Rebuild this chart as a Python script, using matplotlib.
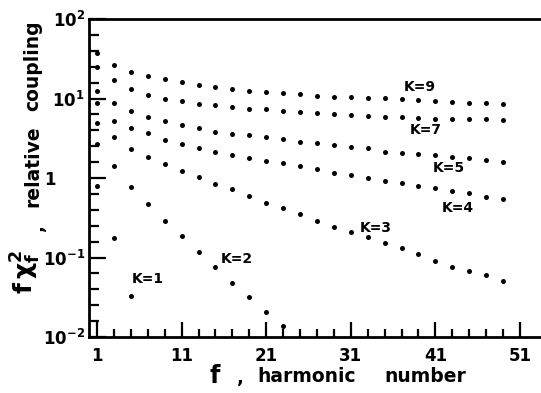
import matplotlib
matplotlib.use('Agg')
import matplotlib.pyplot as plt
import numpy as np
from matplotlib.ticker import FixedLocator, FixedFormatter, NullFormatter

plt.rcParams['font.family'] = ['DejaVu Sans']
plt.rcParams['font.weight'] = 'bold'
plt.rcParams['mathtext.fontset'] = 'dejavusans'
plt.rcParams['mathtext.default'] = 'bf'

# harmonic numbers (odd)
harmonics = list(range(1, 50, 2))

k9 = [37.4, 26.4, 21.5, 19.2, 17.6, 16.1, 14.8, 14.0, 13.2, 12.5, 12.1, 11.8, 11.4,
      10.9, 10.5, 10.4, 10.2, 10.1, 9.9, 9.6, 9.3, 9.0, 8.8, 8.7, 8.5]
k7 = [24.9, 17.1, 13.2, 11.1, 9.86, 9.30, 8.53, 8.28, 7.82, 7.38, 7.3, 6.96, 6.77,
      6.57, 6.38, 6.20, 6.02, 5.85, 5.8, 5.68, 5.6, 5.52, 5.5, 5.45, 5.36]
k5 = [12.4, 8.78, 6.96, 5.85, 5.21, 4.64, 4.26, 3.79, 3.58, 3.47, 3.28, 3.09, 2.84,
      2.76, 2.60, 2.45, 2.38, 2.12, 2.06, 2.00, 1.95, 1.84, 1.79, 1.68, 1.59]
k4 = [8.78, 5.21, 4.26, 3.68, 3.01, 2.68, 2.38, 2.12, 1.95, 1.79, 1.64, 1.54, 1.42,
      1.30, 1.16, 1.09, 1.00, 0.917, 0.865, 0.793, 0.748, 0.686, 0.648, 0.577, 0.544]
k3 = [4.92, 3.28, 2.32, 1.84, 1.50, 1.22, 1.03, 0.840, 0.725, 0.594, 0.485, 0.419, 0.352,
      0.288, 0.242, 0.209, 0.181, 0.152, 0.132, 0.111, 0.0904, 0.0759, 0.0676, 0.0602, 0.0506]
k2 = [2.68, 1.42, 0.770, 0.471, 0.288, 0.186, 0.117, 0.0759, 0.0478, 0.0319, 0.0206, 0.0138]
k1 = [0.793, 0.176, 0.0328]

series = [k9, k7, k5, k4, k3, k2, k1]

label_texts = ['K=9', 'K=7', 'K=5', 'K=4', 'K=3', 'K=2', 'K=1']
label_f = [39.2, 39.9, 42.6, 43.6, 34.0, 17.5, 7.0]
label_v = [13.9, 4.0, 1.34, 0.42, 0.235, 0.096, 0.054]

xticks = [1, 11, 21, 31, 41, 51]
xtick_labels = ['1', '11', '21', '31', '41', '51']
yticks = [0.01, 0.1, 1, 10, 100]
ytick_labels = [r'$10^{-2}$', r'$10^{-1}$', '1     ', r'$10^{1}$', r'$10^{2}$']

fig = plt.figure(figsize=(5.41, 3.93), dpi=100)
ax = fig.add_axes([89 / 541, 56 / 393, 1 - 89 / 541, (337 - 19) / 393])

ax.set_yscale('log')
for vals in series:
    ax.plot(harmonics[:len(vals)], vals, 'o', ms=3.6, color='black', mec='none',
            clip_on=False)

ax.set_xlim(0.054, 53.48)
ax.set_ylim(0.01, 100)

ax.xaxis.set_major_locator(FixedLocator(xticks))
ax.xaxis.set_major_formatter(FixedFormatter(xtick_labels))
ax.xaxis.set_minor_locator(FixedLocator([f for f in range(3, 53, 2) if f not in xticks]))
ax.xaxis.set_minor_formatter(NullFormatter())

ax.yaxis.set_major_locator(FixedLocator(yticks))
ax.yaxis.set_major_formatter(FixedFormatter(ytick_labels))
yminor = [10 ** (d + 0.2 * j) for d in range(-2, 2) for j in range(1, 5)]
ax.yaxis.set_minor_locator(FixedLocator(yminor))
ax.yaxis.set_minor_formatter(NullFormatter())

ax.tick_params(axis='x', which='major', direction='in', length=11, width=1.6,
               pad=7, labelsize=12)
ax.tick_params(axis='x', which='minor', direction='in', length=6, width=1.6)
ax.tick_params(axis='y', which='major', direction='in', length=12, width=1.6,
               pad=3, labelsize=12)
ax.tick_params(axis='y', which='minor', direction='in', length=7, width=1.6)
for lab in ax.get_xticklabels() + ax.get_yticklabels():
    lab.set_fontweight('bold')

ax.spines['right'].set_visible(False)
for s in ['top', 'left', 'bottom']:
    ax.spines[s].set_linewidth(2)

for t, f, v in zip(label_texts, label_f, label_v):
    ax.text(f, v, t, ha='center', va='center', fontsize=10, fontweight='bold')

# x-axis label
fig.text(215 / 541, 1 - 376 / 393, 'f', ha='center', va='center', fontsize=17,
         fontweight='bold')
fig.text(240 / 541, 1 - 378 / 393, ',', ha='center', va='center', fontsize=13,
         fontweight='bold')
fig.text(307 / 541, 1 - 376 / 393, 'harmonic', ha='center', va='center', fontsize=13.5,
         fontweight='bold')
fig.text(425 / 541, 1 - 376 / 393, 'number', ha='center', va='center', fontsize=13.5,
         fontweight='bold')

# y-axis label
fig.text(26 / 541, 1 - 272 / 393, r'$f\,\chi_f^{2}$', rotation=90, ha='center',
         va='center', fontsize=18)
fig.text(38 / 541, 1 - 228 / 393, ',', rotation=90, ha='center', va='center',
         fontsize=13, fontweight='bold')
fig.text(33 / 541, 1 - 166 / 393, 'relative', rotation=90, ha='center', va='center',
         fontsize=13.5, fontweight='bold')
fig.text(33 / 541, 1 - 66 / 393, 'coupling', rotation=90, ha='center', va='center',
         fontsize=13.5, fontweight='bold')

fig.savefig('out.png', dpi=100)
